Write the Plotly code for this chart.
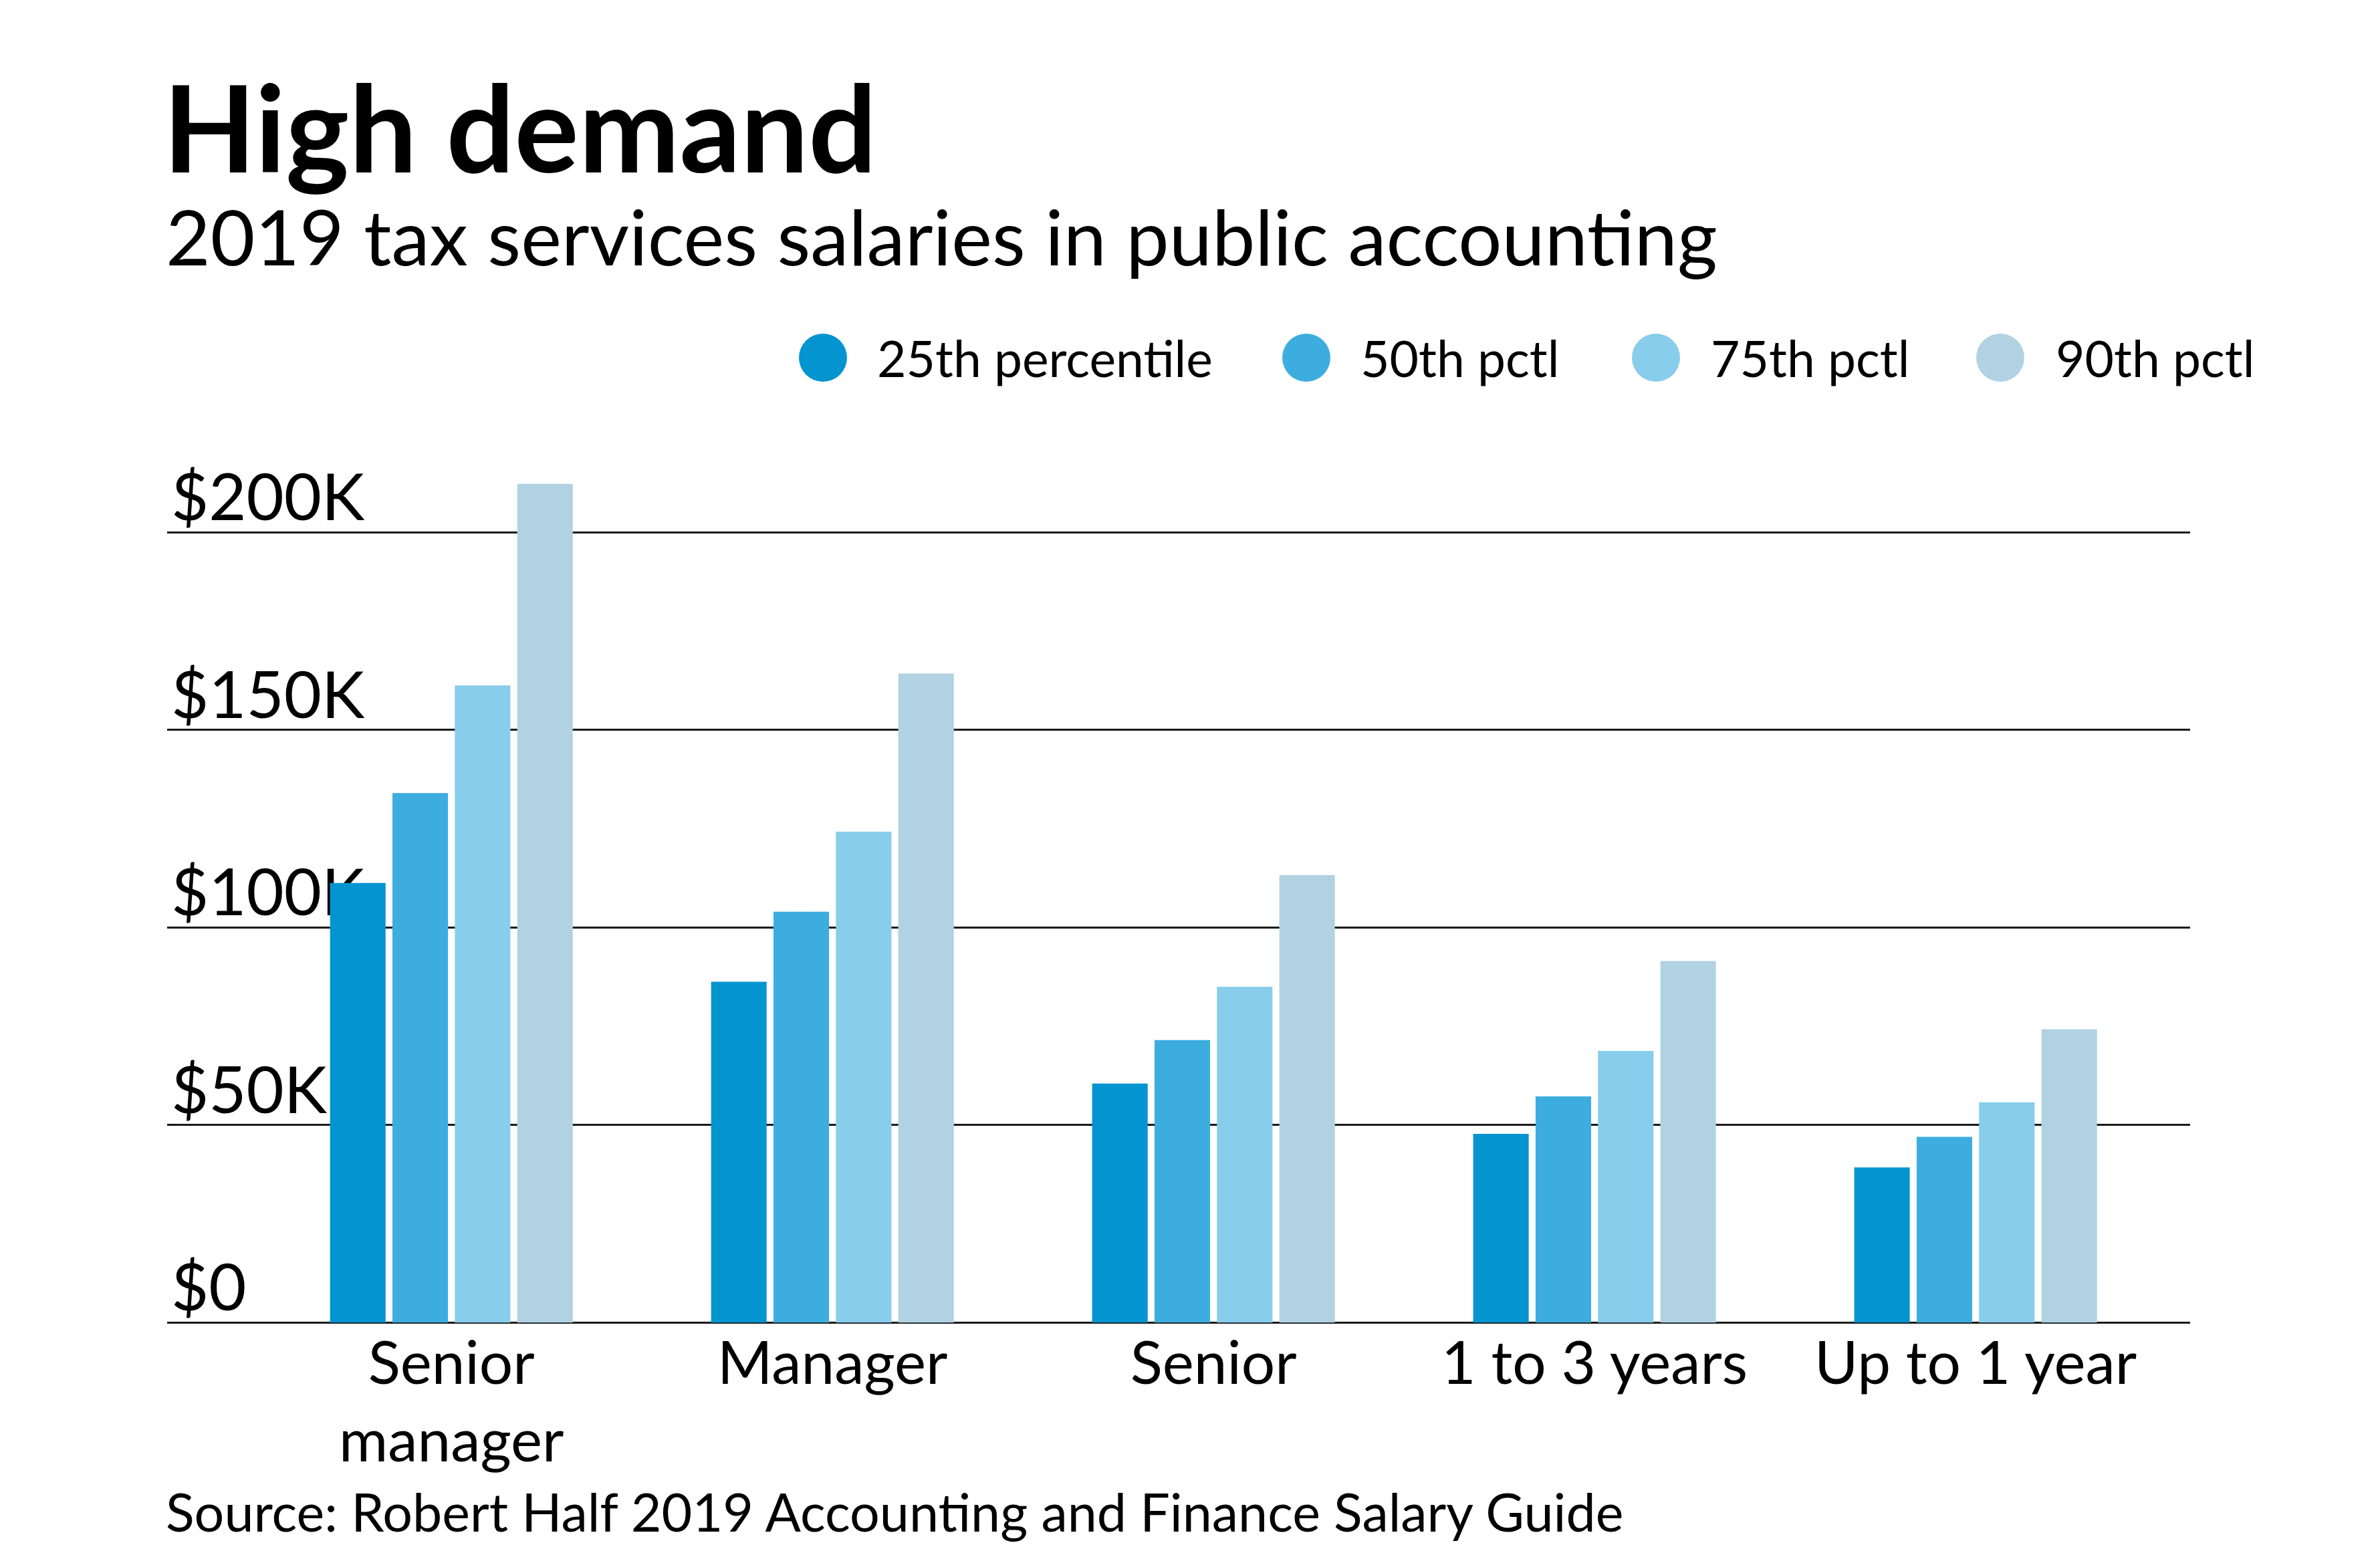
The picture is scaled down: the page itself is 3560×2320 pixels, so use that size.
import plotly.graph_objects as go

# data (thousands of dollars)
categories = ["Senior<br>manager", "Manager", "Senior", "1 to 3 years", "Up to 1 year"]
series_names = ["25th percentile", "50th pctl", "75th pctl", "90th pctl"]
p25 = [111.25, 86.25, 60.5, 47.75, 39.25]
p50 = [134.0, 104.0, 71.5, 57.25, 47.0]
p75 = [161.25, 124.25, 85.0, 68.75, 55.75]
p90 = [212.25, 164.25, 113.25, 91.5, 74.25]
tick_vals = [0, 50, 100, 150, 200]
tick_text = ["$0", "$50K", "$100K", "$150K", "$200K"]

colors = ["#0495d0", "#3cadde", "#88cdeb", "#b1d2e3"]
FONT = "Lato"

W, H = 3560, 2320
L, R, T, B = 242, 292, 670, 326
plot_w = W - L - R
plot_h = H - T - B


def px_x(p):
    return (p - L) / plot_w


def px_y(p):
    return (H - B - p) / plot_h


fig = go.Figure()
for name, vals, col in zip(series_names, [p25, p50, p75, p90], colors):
    fig.add_trace(go.Bar(x=categories, y=vals, name=name, marker=dict(color=col, line=dict(width=0)),
                         showlegend=False))

fig.update_layout(
    width=W, height=H,
    margin=dict(l=L, r=R, t=T, b=B),
    paper_bgcolor="white", plot_bgcolor="white",
    barmode="group", bargap=0.345, bargroupgap=0.11,
    font=dict(family=FONT, color="black"),
    xaxis=dict(range=[-0.746, 4.563], showgrid=False, showline=False, zeroline=False,
               ticks="", tickfont=dict(size=89, color="black"), ticklabelstandoff=-22),
    yaxis=dict(range=[-4, 220], tickvals=tick_vals, ticktext=tick_text,
               showgrid=True, gridcolor="#1a1a1a", gridwidth=2.5,
               zeroline=True, zerolinecolor="#1a1a1a", zerolinewidth=2.5,
               showline=False, ticks="", layer="below traces",
               ticklabelposition="inside top", tickfont=dict(size=97, color="black"),
               ticklabelshift=16, ticklabelstandoff=3),
)

# title block
fig.add_annotation(text="<b>High demand</b>", xref="paper", yref="paper", x=px_x(234), y=px_y(180),
                   xanchor="left", yanchor="middle", showarrow=False,
                   font=dict(size=180, family=FONT, color="black"))
fig.add_annotation(text="2019 tax services salaries in public accounting", xref="paper", yref="paper",
                   x=px_x(238), y=px_y(344), xanchor="left", yanchor="middle", showarrow=False,
                   font=dict(size=115, family=FONT, color="black"))
fig.add_annotation(text="Source: Robert Half 2019 Accounting and Finance Salary Guide", xref="paper",
                   yref="paper", x=px_x(238), y=px_y(2252), xanchor="left", yanchor="middle",
                   showarrow=False, font=dict(size=79, family=FONT, color="black"))

# legend with round markers
legend_dot_x = [1223, 1946, 2469, 2984]
legend_text_x = [1302, 2025, 2549, 3065]
legend_y = 527
for name, col, dx, tx in zip(series_names, colors, legend_dot_x, legend_text_x):
    fig.add_shape(type="circle", xref="paper", yref="paper", xsizemode="pixel", ysizemode="pixel",
                  xanchor=px_x(dx), yanchor=px_y(legend_y), x0=-36, x1=36, y0=-36, y1=36,
                  fillcolor=col, line=dict(width=0))
    fig.add_annotation(text=name, xref="paper", yref="paper", x=px_x(tx), y=px_y(legend_y),
                       xanchor="left", yanchor="middle", showarrow=False,
                       font=dict(size=75, family=FONT, color="black"))

fig.write_html("out.html")
